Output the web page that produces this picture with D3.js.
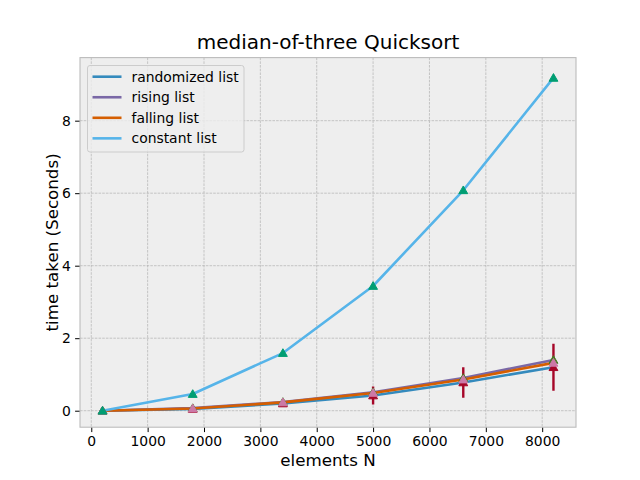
<!DOCTYPE html>
<html>
<head>
<meta charset="utf-8">
<script src="https://cdn.jsdelivr.net/npm/d3@7"></script>
<style>
body { margin: 0; background: #ffffff; }
svg text { font-family: "DejaVu Sans", sans-serif; }
</style>
</head>
<body>
<svg id="chart" width="640" height="480"></svg>
<script>
const sizes = [200, 1800, 3400, 5000, 6600, 8200];
const randomized = [0.0, 0.05, 0.2, 0.42, 0.78, 1.2];
const randomizedErr = [0.005, 0.03, 0.05, 0.25, 0.42, 0.65];
const rising = [0.0, 0.07, 0.24, 0.51, 0.9, 1.4];
const falling = [0.0, 0.06, 0.23, 0.49, 0.86, 1.32];
const constant = [0.0, 0.46, 1.59, 3.44, 6.08, 9.18];
const xTicks = [0, 1000, 2000, 3000, 4000, 5000, 6000, 7000, 8000];
const yTicks = [0, 2, 4, 6, 8];
const xLimits = [-200, 8600];
const yLimits = [-0.455, 9.74];
const seriesNames = ["randomized list", "rising list", "falling list", "constant list"];

const lineColors = ["#348ABD", "#7A68A6", "#D55E00", "#56B4E9"];
const markerColors = ["#A60628", "#467821", "#CC79A7", "#009E73"];
const seriesVals = [randomized, rising, falling, constant];

const svg = d3.select("#chart");
const L = 80, R = 576, T = 57.6, B = 427.2;

const x = d3.scaleLinear().domain(xLimits).range([L, R]);
const y = d3.scaleLinear().domain(yLimits).range([B, T]);

// background
svg.append("rect").attr("x", L).attr("y", T).attr("width", R - L).attr("height", B - T)
  .attr("fill", "#eeeeee");

// grid
const grid = svg.append("g");
grid.selectAll(".gx").data(xTicks).enter().append("line")
  .attr("x1", d => x(d)).attr("x2", d => x(d)).attr("y1", T).attr("y2", B)
  .attr("stroke", "#b2b2b2").attr("stroke-width", 0.7).attr("stroke-dasharray", "2.6,1.1");
grid.selectAll(".gy").data(yTicks).enter().append("line")
  .attr("y1", d => y(d)).attr("y2", d => y(d)).attr("x1", L).attr("x2", R)
  .attr("stroke", "#b2b2b2").attr("stroke-width", 0.7).attr("stroke-dasharray", "2.6,1.1");

// axes
const xAxis = d3.axisBottom(x).tickValues(xTicks).tickSize(4.9).tickPadding(4.2).tickFormat(d3.format("d"));
const yAxis = d3.axisLeft(y).tickValues(yTicks).tickSize(4.9).tickPadding(4.2).tickFormat(d3.format("d"));
const gx = svg.append("g").attr("transform", `translate(0,${B})`).call(xAxis);
const gy = svg.append("g").attr("transform", `translate(${L},0)`).call(yAxis);
[gx, gy].forEach(g => {
  g.select(".domain").remove();
  g.selectAll(".tick line").attr("stroke", "#000").attr("stroke-width", 1);
  g.selectAll(".tick text").attr("fill", "#000").style("font-size", "13.9px")
    .style("font-family", "DejaVu Sans, sans-serif");
});

// spines
svg.append("rect").attr("x", L).attr("y", T).attr("width", R - L).attr("height", B - T)
  .attr("fill", "none").attr("stroke", "#bcbcbc").attr("stroke-width", 1.1);

// clip
svg.append("clipPath").attr("id", "clip").append("rect")
  .attr("x", L).attr("y", T).attr("width", R - L).attr("height", B - T);
const plot = svg.append("g").attr("clip-path", "url(#clip)");

const line = d3.line().x((d, i) => x(sizes[i])).y(d => y(d));
seriesVals.forEach((vals, k) => {
  plot.append("path").datum(vals).attr("d", line)
    .attr("fill", "none").attr("stroke", lineColors[k]).attr("stroke-width", 2.6)
    .attr("stroke-linejoin", "round").attr("stroke-linecap", "butt");
});

const tri = d3.symbol().type(d3.symbolTriangle).size(34);
// error bars (randomized)
plot.selectAll(".err").data(randomized).enter().append("line")
  .attr("x1", (d, i) => x(sizes[i])).attr("x2", (d, i) => x(sizes[i]))
  .attr("y1", (d, i) => y(d - randomizedErr[i])).attr("y2", (d, i) => y(d + randomizedErr[i]))
  .attr("stroke", markerColors[0]).attr("stroke-width", 2.4);

seriesVals.forEach((vals, k) => {
  plot.selectAll(".m" + k).data(vals).enter().append("path")
    .attr("d", tri)
    .attr("transform", (d, i) => `translate(${x(sizes[i])},${y(d) + 0.8})`)
    .attr("fill", markerColors[k]).attr("stroke", markerColors[k]).attr("stroke-width", 1);
});

// legend
const lg = svg.append("g");
lg.append("rect").attr("x", 87.5).attr("y", 65.5).attr("width", 156.5).attr("height", 86.5)
  .attr("rx", 2.5).attr("fill", "#eeeeee").attr("fill-opacity", 0.8)
  .attr("stroke", "#cccccc").attr("stroke-width", 1);
seriesNames.forEach((name, k) => {
  const cy = 76.7 + k * 20.55;
  lg.append("line").attr("x1", 92.5).attr("x2", 121.5).attr("y1", cy).attr("y2", cy)
    .attr("stroke", lineColors[k]).attr("stroke-width", 2.6);
  lg.append("text").attr("x", 131.5).attr("y", cy + 5).text(name)
    .style("font-size", "13.9px").attr("fill", "#000");
});

// title & labels
svg.append("text").attr("x", (L + R) / 2).attr("y", 49.3).attr("text-anchor", "middle")
  .style("font-size", "20px").attr("fill", "#000").text("median-of-three Quicksort");
svg.append("text").attr("x", (L + R) / 2).attr("y", 466).attr("text-anchor", "middle")
  .style("font-size", "16.7px").attr("fill", "#000").text("elements N");
svg.append("text").attr("transform", `translate(57.5,${(T + B) / 2}) rotate(-90)`)
  .attr("text-anchor", "middle")
  .style("font-size", "16.7px").attr("fill", "#000").text("time taken (Seconds)");
</script>
</body>
</html>
